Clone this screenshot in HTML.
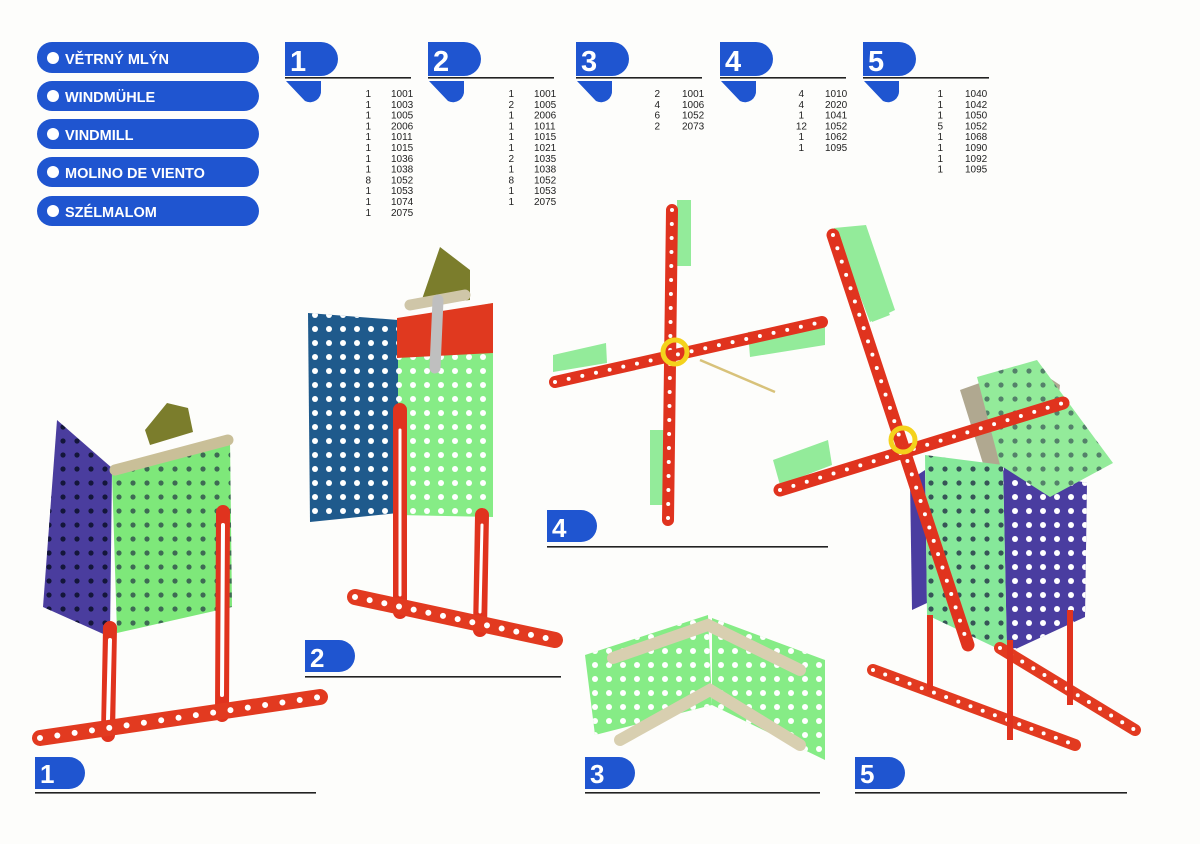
<!DOCTYPE html>
<html><head><meta charset="utf-8"><style>
html,body{margin:0;padding:0;background:#fdfdfb;}
svg{display:block}
.t{font-family:"Liberation Sans",sans-serif;}
</style></head><body>
<svg width="1200" height="844" viewBox="0 0 1200 844" xmlns="http://www.w3.org/2000/svg" class="t">
<defs>
<pattern id="hw" width="14" height="14" patternUnits="userSpaceOnUse"><rect width="14" height="14" fill="none"/><circle cx="7" cy="7" r="3" fill="#fff"/></pattern>
<pattern id="hd" width="14" height="14" patternUnits="userSpaceOnUse"><circle cx="7" cy="7" r="2.6" fill="#14163a"/></pattern>
</defs>
<!-- title pills -->
<g fill="#1f55d0">
<rect x="37" y="42" width="222" height="31" rx="15"/>
<rect x="37" y="81" width="222" height="30" rx="15"/>
<rect x="37" y="119" width="222" height="30" rx="15"/>
<rect x="37" y="157" width="222" height="30" rx="15"/>
<rect x="37" y="196" width="222" height="30" rx="15"/>
</g>
<g fill="#fff"><circle cx="53" cy="58" r="6"/><circle cx="53" cy="96" r="6"/><circle cx="53" cy="134" r="6"/><circle cx="53" cy="172" r="6"/><circle cx="53" cy="211" r="6"/></g>
<g fill="#fff" font-weight="bold" font-size="14.5">
<text x="65" y="64">VĚTRNÝ MLÝN</text>
<text x="65" y="102">WINDMÜHLE</text>
<text x="65" y="140">VINDMILL</text>
<text x="65" y="178">MOLINO DE VIENTO</text>
<text x="65" y="217">SZÉLMALOM</text>
</g>
<!-- header tabs -->
<g id="hdr">
<path d="M285 42 H321 A17 17 0 0 1 321 76 H285 Z" fill="#1f55d0"/>
<rect x="285" y="77" width="126" height="1.6" fill="#222"/>
<path d="M286 81 H321 V90 A11 11 0 0 1 305 101 Z" fill="#1f55d0"/>
</g>
<use href="#hdr" x="143"/><use href="#hdr" x="291"/><use href="#hdr" x="435"/><use href="#hdr" x="578"/>
<g fill="#fff" font-weight="bold" font-size="29">
<text x="290" y="71">1</text><text x="433" y="71">2</text><text x="581" y="71">3</text><text x="725" y="71">4</text><text x="868" y="71">5</text>
</g>
<!-- lists -->
<g font-size="10" fill="#222">
<g text-anchor="end">
<text x="371" y="97">1</text><text x="371" y="107.8">1</text><text x="371" y="118.6">1</text><text x="371" y="129.4">1</text><text x="371" y="140.2">1</text><text x="371" y="151">1</text><text x="371" y="161.8">1</text><text x="371" y="172.6">1</text><text x="371" y="183.4">8</text><text x="371" y="194.2">1</text><text x="371" y="205">1</text><text x="371" y="215.8">1</text>
<text x="514" y="97">1</text><text x="514" y="107.8">2</text><text x="514" y="118.6">1</text><text x="514" y="129.4">1</text><text x="514" y="140.2">1</text><text x="514" y="151">1</text><text x="514" y="161.8">2</text><text x="514" y="172.6">1</text><text x="514" y="183.4">8</text><text x="514" y="194.2">1</text><text x="514" y="205">1</text>
<text x="660" y="97">2</text><text x="660" y="107.8">4</text><text x="660" y="118.6">6</text><text x="660" y="129.4">2</text>
<text x="804" y="97">4</text><text x="804" y="107.8">4</text><text x="804" y="118.6">1</text><text x="807" y="129.4">12</text><text x="804" y="140.2">1</text><text x="804" y="151">1</text>
<text x="943" y="97">1</text><text x="943" y="107.8">1</text><text x="943" y="118.6">1</text><text x="943" y="129.4">5</text><text x="943" y="140.2">1</text><text x="943" y="151">1</text><text x="943" y="161.8">1</text><text x="943" y="172.6">1</text>
</g>
<g>
<text x="391" y="97">1001</text><text x="391" y="107.8">1003</text><text x="391" y="118.6">1005</text><text x="391" y="129.4">2006</text><text x="391" y="140.2">1011</text><text x="391" y="151">1015</text><text x="391" y="161.8">1036</text><text x="391" y="172.6">1038</text><text x="391" y="183.4">1052</text><text x="391" y="194.2">1053</text><text x="391" y="205">1074</text><text x="391" y="215.8">2075</text>
<text x="534" y="97">1001</text><text x="534" y="107.8">1005</text><text x="534" y="118.6">2006</text><text x="534" y="129.4">1011</text><text x="534" y="140.2">1015</text><text x="534" y="151">1021</text><text x="534" y="161.8">1035</text><text x="534" y="172.6">1038</text><text x="534" y="183.4">1052</text><text x="534" y="194.2">1053</text><text x="534" y="205">2075</text>
<text x="682" y="97">1001</text><text x="682" y="107.8">1006</text><text x="682" y="118.6">1052</text><text x="682" y="129.4">2073</text>
<text x="825" y="97">1010</text><text x="825" y="107.8">2020</text><text x="825" y="118.6">1041</text><text x="825" y="129.4">1052</text><text x="825" y="140.2">1062</text><text x="825" y="151">1095</text>
<text x="965" y="97">1040</text><text x="965" y="107.8">1042</text><text x="965" y="118.6">1050</text><text x="965" y="129.4">1052</text><text x="965" y="140.2">1068</text><text x="965" y="151">1090</text><text x="965" y="161.8">1092</text><text x="965" y="172.6">1095</text>
</g>
</g>
<!-- bottom labels -->
<g id="bl"><path d="M35 757 H69 A16 16 0 0 1 69 789 H35 Z" fill="#1f55d0"/></g>
<use href="#bl" x="270" y="-117"/><use href="#bl" x="550"/><use href="#bl" x="512" y="-247"/><use href="#bl" x="820"/>
<g fill="#222">
<rect x="35" y="792" width="281" height="1.6"/><rect x="305" y="676" width="256" height="1.6"/><rect x="585" y="792" width="235" height="1.6"/><rect x="547" y="546" width="281" height="1.6"/><rect x="855" y="792" width="272" height="1.6"/>
</g>
<g fill="#fff" font-weight="bold" font-size="26">
<text x="40" y="783">1</text><text x="310" y="667">2</text><text x="590" y="783">3</text><text x="552" y="537">4</text><text x="860" y="783">5</text>
</g>

<!-- MODEL 1 -->
<polygon points="145,430 167,403 188,408 193,432 150,445" fill="#7b7d2c"/>
<polygon points="57,420 112,468 110,637 43,607" fill="#4a3d9e"/>
<polygon points="57,420 112,468 110,637 43,607" fill="url(#hd)"/>
<polygon points="112,473 230,440 232,607 117,633" fill="#7ee87a"/>
<polygon points="112,473 230,440 232,607 117,633" fill="url(#hd)" opacity=".6"/>
<line x1="115" y1="470" x2="228" y2="440" stroke="#c9bf98" stroke-width="11" stroke-linecap="round"/>
<line x1="223" y1="512" x2="222" y2="715" stroke="#e0331e" stroke-width="14" stroke-linecap="round"/>
<line x1="223" y1="525" x2="222" y2="695" stroke="#fff" stroke-width="4" stroke-linecap="round"/>
<line x1="110" y1="628" x2="108" y2="735" stroke="#e0331e" stroke-width="14" stroke-linecap="round"/>
<line x1="110" y1="640" x2="108" y2="720" stroke="#fff" stroke-width="4" stroke-linecap="round"/>
<line x1="40" y1="738" x2="320" y2="697" stroke="#e23a20" stroke-width="16" stroke-linecap="round"/>
<line x1="40" y1="738" x2="320" y2="697" stroke="#fff" stroke-width="6" stroke-linecap="round" stroke-dasharray="0 17.5"/>

<!-- MODEL 2 -->
<polygon points="420,305 440,247 470,270 470,300" fill="#7b7d2c"/>
<polygon points="308,313 398,320 398,513 310,522" fill="#1f5a8c"/>
<polygon points="308,313 398,320 398,513 310,522" fill="url(#hw)"/>
<polygon points="398,320 493,303 493,517 398,515" fill="#86ec86"/>
<polygon points="398,320 493,303 493,517 398,515" fill="url(#hw)"/>
<polygon points="397,318 493,303 493,353 397,358" fill="#e0391f"/>
<line x1="410" y1="305" x2="465" y2="295" stroke="#cfc6a8" stroke-width="11" stroke-linecap="round"/>
<line x1="438" y1="300" x2="435" y2="368" stroke="#bfbfbf" stroke-width="11" stroke-linecap="round"/>
<line x1="400" y1="410" x2="400" y2="612" stroke="#e0331e" stroke-width="14" stroke-linecap="round"/>
<line x1="400" y1="430" x2="400" y2="595" stroke="#fff" stroke-width="3" stroke-linecap="round"/>
<line x1="482" y1="515" x2="480" y2="630" stroke="#e0331e" stroke-width="14" stroke-linecap="round"/>
<line x1="482" y1="525" x2="480" y2="612" stroke="#fff" stroke-width="3" stroke-linecap="round"/>
<line x1="355" y1="597" x2="555" y2="640" stroke="#e23a20" stroke-width="16" stroke-linecap="round"/>
<line x1="355" y1="597" x2="555" y2="640" stroke="#fff" stroke-width="6" stroke-linecap="round" stroke-dasharray="0 15"/>

<!-- MODEL 3 -->
<polygon points="585,655 708,615 712,705 595,735" fill="#86ec86"/>
<polygon points="712,618 825,660 825,760 712,705" fill="#86ec86"/>
<polygon points="585,655 708,615 712,705 595,735" fill="url(#hw)"/>
<polygon points="712,618 825,660 825,760 712,705" fill="url(#hw)"/>
<polyline points="613,658 708,625 800,670" fill="none" stroke="#d8cfb0" stroke-width="12" stroke-linecap="round"/>
<polyline points="620,740 710,690 800,745" fill="none" stroke="#d8cfb0" stroke-width="12" stroke-linecap="round"/>

<!-- MODEL 4 -->
<rect x="677" y="200" width="14" height="66" fill="#93eb9a"/>
<polygon points="748,332 825,322 825,345 750,357" fill="#93eb9a"/>
<polygon points="553,355 606,343 607,363 553,372" fill="#93eb9a"/>
<rect x="650" y="430" width="14" height="75" fill="#93eb9a"/>
<line x1="700" y1="360" x2="775" y2="392" stroke="#d8c27a" stroke-width="2.5"/>
<line x1="672" y1="210" x2="668" y2="520" stroke="#e0331e" stroke-width="12" stroke-linecap="round"/>
<line x1="672" y1="210" x2="668" y2="520" stroke="#fff" stroke-width="4" stroke-linecap="round" stroke-dasharray="0 14"/>
<line x1="555" y1="382" x2="822" y2="322" stroke="#e0331e" stroke-width="12" stroke-linecap="round"/>
<line x1="555" y1="382" x2="822" y2="322" stroke="#fff" stroke-width="4" stroke-linecap="round" stroke-dasharray="0 14"/>
<circle cx="675" cy="352" r="12" fill="none" stroke="#f4d21c" stroke-width="5"/>

<!-- MODEL 5 -->
<polygon points="873,255 848,232 890,315 872,322" fill="#93eb9a"/>
<polygon points="834,228 866,225 895,310 870,322" fill="#93eb9a"/>
<polygon points="773,460 828,440 832,465 780,485" fill="#93eb9a"/>
<polygon points="960,390 1030,365 1060,385 1050,470 985,470" fill="#b0a890"/>
<polygon points="910,480 925,470 927,603 912,610" fill="#4a3da0"/>
<polygon points="1003,465 1087,483 1085,617 1007,653" fill="#4a3da0"/>
<polygon points="1003,465 1087,483 1085,617 1007,653" fill="url(#hw)"/>
<polygon points="925,455 1003,465 1007,653 927,615" fill="#86e89a"/>
<polygon points="925,455 1003,465 1007,653 927,615" fill="url(#hd)" opacity=".7"/>
<polygon points="977,377 1037,360 1113,463 1050,497 1000,465" fill="#93eb9a"/>
<polygon points="977,377 1037,360 1113,463 1050,497 1000,465" fill="url(#hd)" opacity=".5"/>
<line x1="873" y1="670" x2="1075" y2="745" stroke="#e23a20" stroke-width="12" stroke-linecap="round"/>
<line x1="1000" y1="648" x2="1135" y2="730" stroke="#e23a20" stroke-width="12" stroke-linecap="round"/>
<line x1="873" y1="670" x2="1075" y2="745" stroke="#fff" stroke-width="4" stroke-linecap="round" stroke-dasharray="0 13"/>
<line x1="1000" y1="648" x2="1135" y2="730" stroke="#fff" stroke-width="4" stroke-linecap="round" stroke-dasharray="0 13"/>
<line x1="930" y1="615" x2="930" y2="690" stroke="#e0331e" stroke-width="6"/>
<line x1="1010" y1="640" x2="1010" y2="740" stroke="#e0331e" stroke-width="6"/>
<line x1="1070" y1="610" x2="1070" y2="705" stroke="#e0331e" stroke-width="6"/>
<line x1="833" y1="235" x2="968" y2="645" stroke="#e0331e" stroke-width="13" stroke-linecap="round"/>
<line x1="833" y1="235" x2="968" y2="645" stroke="#fff" stroke-width="4" stroke-linecap="round" stroke-dasharray="0 14"/>
<line x1="780" y1="490" x2="1063" y2="403" stroke="#e0331e" stroke-width="13" stroke-linecap="round"/>
<line x1="780" y1="490" x2="1063" y2="403" stroke="#fff" stroke-width="4" stroke-linecap="round" stroke-dasharray="0 14"/>
<circle cx="903" cy="440" r="12" fill="none" stroke="#f4d21c" stroke-width="5"/>
</svg>
</body></html>
